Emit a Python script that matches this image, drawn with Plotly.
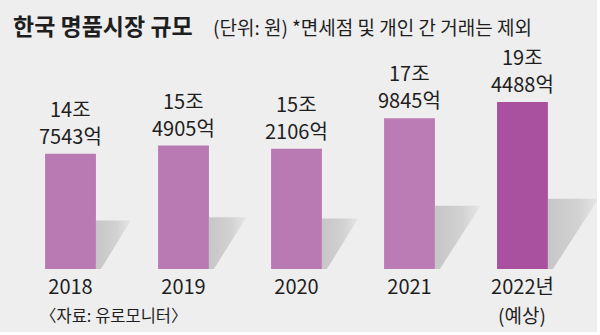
import plotly.graph_objects as go

# ---- data ----
years = ["2018", "2019", "2020", "2021", "2022년"]
year_notes = ["", "", "", "", "(예상)"]
values_eok = [147543, 154905, 152106, 179845, 194488]  # 단위: 억 원
bar_colors = ["#b97ab4", "#b97ab4", "#b97ab4", "#bb7cb6", "#a9519f"]

title = "한국 명품시장 규모"
unit_note = "(단위: 원)"
sub_note = "*면세점 및 개인 간 거래는 제외"
source = "〈자료: 유로모니터〉"

FONT = "Noto Sans CJK KR"
BG = "#eeeeee"
TXT = "#1e1e1e"

W, H = 600, 335
M_T, M_B = 60, 66
PLOT_H = H - M_T - M_B
X_RANGE = [-0.624, 4.686]
Y0 = 42700
EOK_PER_PX = 909.0
Y_RANGE = [Y0, Y0 + PLOT_H * EOK_PER_PX]
PX_PER_X = W / (X_RANGE[1] - X_RANGE[0])
BAR_W = 0.45

xs = list(range(len(years)))

fig = go.Figure()

# shadows (decorative), derived from bar values
for i, v in enumerate(values_eok):
    right = xs[i] + BAR_W / 2
    h_px = (v - Y0) / EOK_PER_PX
    sh_px = 0.42 * h_px
    top = Y0 + sh_px * EOK_PER_PX
    wx = 0.72 * sh_px / PX_PER_X
    bx = 5 / PX_PER_X
    fig.add_trace(go.Scatter(
        x=[right, right + wx, right + bx, right, right],
        y=[top, top, Y0, Y0, top],
        mode="lines", line=dict(width=0),
        fill="toself",
        fillgradient=dict(type="horizontal",
                          colorscale=[[0, "#c6c6c6"], [0.6, "#d2d2d2"], [1, "#e6e6e6"]]),
        hoverinfo="skip", showlegend=False,
    ))

fig.add_trace(go.Bar(
    x=xs, y=values_eok, width=BAR_W,
    marker=dict(color=bar_colors, line=dict(width=0)),
    showlegend=False, hoverinfo="skip",
))

# value labels: two lines, as separate annotations anchored at each bar top
for i, v in enumerate(values_eok):
    jo, eok = v // 10000, v % 10000
    for txt, shift in ((f"{eok}억", 2), (f"{jo}조", 29)):
        fig.add_annotation(x=xs[i], y=v, xref="x", yref="y", text=txt,
                           xanchor="center", yanchor="bottom", yshift=shift,
                           showarrow=False,
                           font=dict(family=FONT, size=20, color=TXT))


def py(pix):
    return (H - M_B - pix) / PLOT_H


# second line under the year tick (예상)
for i, note in enumerate(year_notes):
    if note:
        fig.add_annotation(x=xs[i], y=py(314), xref="x", yref="paper", text=note,
                           xanchor="center", yanchor="middle", showarrow=False,
                           font=dict(family=FONT, size=19, color=TXT))

annos = [
    dict(text=f"<b>{title}</b>", x=11 / W, y=py(25), size=23),
    dict(text=unit_note, x=211 / W, y=py(27), size=19),
    dict(text=sub_note, x=290 / W, y=py(27), size=19),
    dict(text=source, x=38 / W, y=py(315), size=16.5),
]
for a in annos:
    fig.add_annotation(text=a["text"], x=a["x"], y=a["y"], xref="paper", yref="paper",
                       xanchor="left", yanchor="middle", showarrow=False,
                       font=dict(family=FONT, size=a["size"], color=TXT))

# white frame strips at right and bottom edge
fig.add_shape(type="rect", xref="paper", yref="paper", layer="above",
              x0=597 / W, x1=1.01, y0=py(336), y1=py(-2), fillcolor="white", line=dict(width=0))
fig.add_shape(type="rect", xref="paper", yref="paper", layer="above",
              x0=-0.01, x1=1.01, y0=py(336), y1=py(332), fillcolor="white", line=dict(width=0))

fig.update_layout(
    width=W, height=H,
    margin=dict(l=0, r=0, t=M_T, b=M_B, pad=0),
    paper_bgcolor=BG, plot_bgcolor=BG,
    font=dict(family=FONT, color=TXT),
    xaxis=dict(range=X_RANGE, tickvals=xs, ticktext=years, showgrid=False,
               zeroline=False, showline=False, ticks="", ticklabelstandoff=4,
               tickfont=dict(family=FONT, size=20, color=TXT)),
    yaxis=dict(range=Y_RANGE, visible=False, showgrid=False, zeroline=False),
)

fig.write_html("out.html")
